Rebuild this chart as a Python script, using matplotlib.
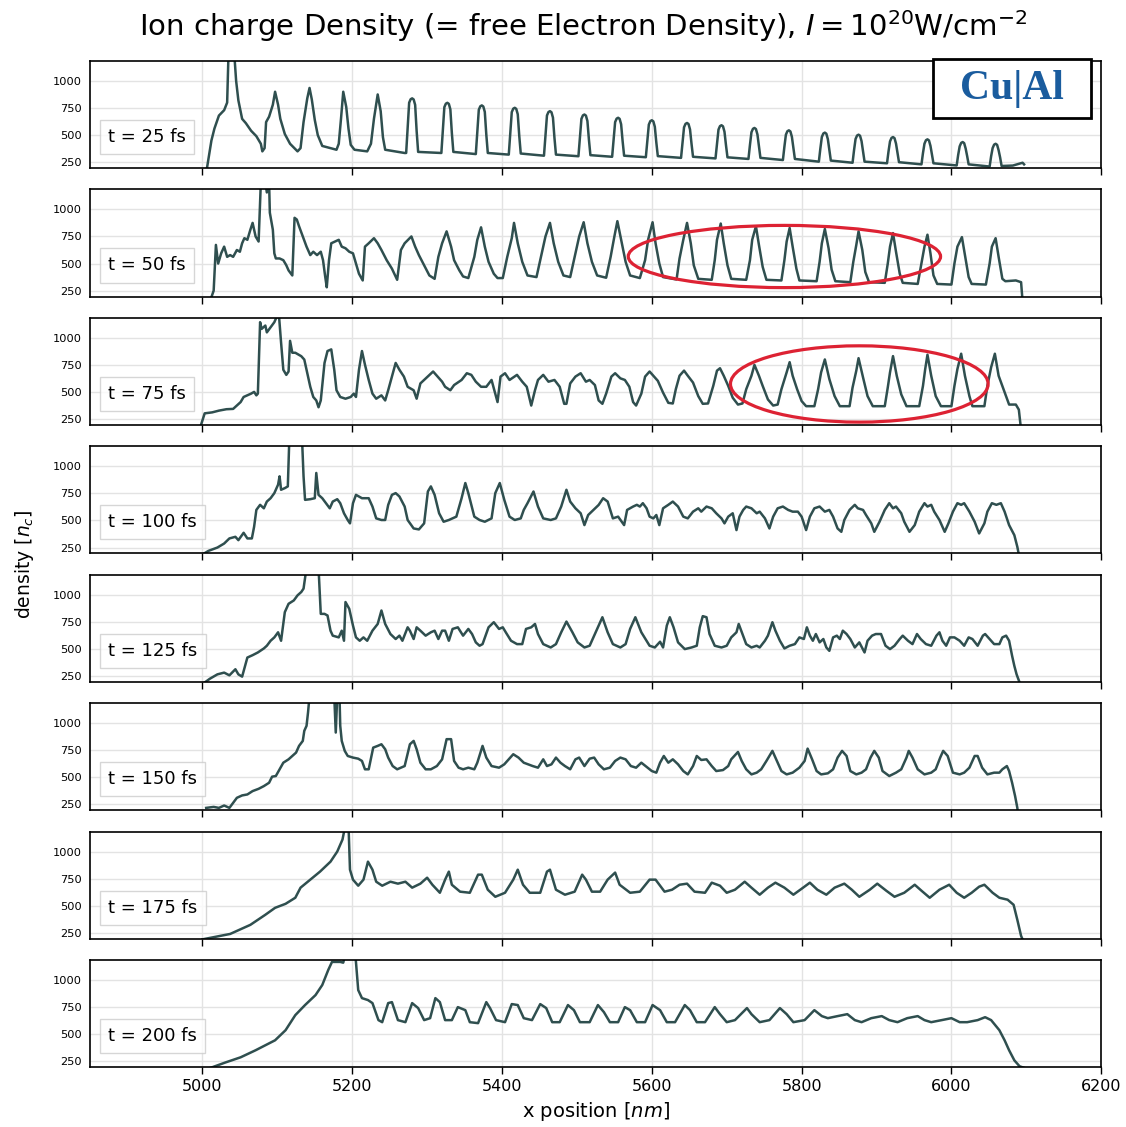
import matplotlib
matplotlib.use("Agg")
import matplotlib.pyplot as plt
from matplotlib.patches import Ellipse, Rectangle

# ---------------- data (x position [nm], density [n_c]) ----------------
times = ["25", "50", "75", "100", "125", "150", "175", "200"]

pts_25 = [(5005,150),(5012,450),(5016,560),(5022,680),(5029,730),(5033,800),(5035,1300),(5039,1250),
          (5042,1300),(5045,1000),(5048,820),(5053,650),(5058,610),(5065,540),(5072,490),(5078,420),
          (5080,350),(5083,380),(5085,620),(5089,670),(5094,780),(5097,900),(5101,780),(5104,650),
          (5110,510),(5117,420),(5127,350),(5131,380),(5135,620),(5140,840),(5143,935),(5146,830),
          (5150,640),(5154,500),(5160,400),(5179,365),(5182,420),(5185,650),(5188,900),(5192,760),
          (5195,560),(5198,410),(5203,365),(5220,350),(5225,420),(5229,650),(5234,875),(5238,720),
          (5241,480),(5244,365),(5270,335),
          (5272,335),(5274,562),(5276,799),(5278,831),(5280,839),(5282,829),(5284,779),(5286,537),(5288,345),
          (5319,335),(5321,543),(5323,758),(5325,790),(5327,798),(5329,788),(5331,738),(5333,520),(5335,345),
          (5365,325),(5367,527),(5369,734),(5371,766),(5373,774),(5375,764),(5377,714),(5379,505),(5381,335),
          (5409,320),(5411,514),(5413,712),(5415,744),(5417,752),(5419,742),(5421,692),(5423,493),(5425,330),
          (5456,310),(5458,495),(5460,681),(5462,713),(5464,721),(5466,711),(5468,661),(5470,474),(5472,320),
          (5502,305),(5504,478),(5506,650),(5508,682),(5510,690),(5512,680),(5514,630),(5516,459),(5518,315),
          (5547,300),(5549,462),(5551,620),(5553,652),(5555,660),(5557,650),(5559,600),(5561,444),(5563,310),
          (5592,296),(5594,449),(5596,597),(5598,629),(5600,637),(5602,627),(5604,577),(5606,432),(5608,306),
          (5639,290),(5641,435),(5643,572),(5645,604),(5647,612),(5649,602),(5651,552),(5653,419),(5655,300),
          (5685,285),(5687,423),(5689,551),(5691,583),(5693,591),(5695,581),(5697,531),(5699,407),(5701,295),
          (5729,280),(5731,409),(5733,526),(5735,558),(5737,566),(5739,556),(5741,506),(5743,394),(5745,290),
          (5775,270),(5777,393),(5779,504),(5781,536),(5783,544),(5785,534),(5787,484),(5789,380),(5791,280),
          (5823,255),(5825,376),(5827,483),(5829,515),(5831,523),(5833,513),(5835,463),(5837,362),(5839,265),
          (5868,245),(5870,362),(5872,464),(5874,496),(5876,504),(5878,494),(5880,444),(5882,349),(5884,255),
          (5914,240),(5916,349),(5918,442),(5920,474),(5922,482),(5924,472),(5926,422),(5928,337),(5930,250),
          (5960,230),(5962,334),(5964,421),(5966,453),(5968,461),(5970,451),(5972,401),(5974,322),(5976,240),
          (6007,220),(6009,317),(6011,396),(6013,428),(6015,436),(6017,426),(6019,376),(6021,306),(6023,230),
          (6051,210),(6053,305),(6055,380),(6057,412),(6059,420),(6061,410),(6063,360),(6065,294),(6067,215),
          (6082,219),(6090,235),(6095,245),(6097,230)]

pts_50 = [(5010,150),(5015,250),(5018,672),(5021,500),(5025,594),(5029,656),(5033,562),(5037,578),
          (5041,562),(5046,625),(5050,609),(5053,687),(5056,734),(5060,719),(5064,812),(5067,875),
          (5071,750),(5075,703),(5078,1250),(5084,1250),(5086,1156),(5089,1250),(5090,969),(5094,812),
          (5096,594),(5098,547),(5103,547),(5108,531),(5112,484),(5115,437),(5120,390),(5123,922),
          (5126,906),(5129,844),(5134,750),(5139,656),(5144,578),(5148,609),(5153,578),(5158,609),
          (5161,531),(5164,375),(5166,281),(5169,531),(5172,687),(5177,703),(5182,719),(5186,656),
          (5191,641),(5196,609),(5201,594),(5205,500),(5209,406),(5214,344),(5217,656),(5222,687),
          (5229,734),(5234,687),(5239,625),(5246,531),(5253,453),(5260,350),(5265,625),(5270,687),
          (5279,750),(5284,656),(5289,578),(5296,484),(5303,390),(5310,359),(5315,562),(5320,687),
          (5326,797),(5332,656),(5336,531),(5343,437),(5348,381),(5355,366),(5363,562),(5367,719),
          (5372,834),(5377,656),(5382,516),(5389,406),(5394,366),(5401,366),(5407,562),(5413,734),
          (5416,875),(5421,687),(5427,516),(5434,390),(5446,375),(5452,562),(5458,750),(5464,875),
          (5469,687),(5475,516),(5482,390),(5491,375),(5497,562),(5503,750),(5509,881),(5514,687),
          (5520,516),(5527,390),(5539,369),(5545,562),(5550,750),(5554,891),(5560,687),(5565,516),
          (5571,390),(5584,366),(5591,531),(5595,719),(5601,881),(5605,687),(5610,500),(5615,375),
          (5633,353),(5637,547),(5642,719),(5647,875),(5652,687),(5656,484),(5662,359),(5680,350),
          (5684,531),(5687,719),(5692,869),(5696,687),(5701,484),(5706,359),(5726,350),(5731,531),
          (5734,719),(5739,844),(5743,672),(5748,469),(5753,350),(5773,344),(5777,531),(5780,703),
          (5784,828),(5788,656),(5793,453),(5797,344),(5820,337),(5824,516),(5827,687),(5831,819),
          (5836,641),(5840,444),(5845,337),(5865,328),(5869,516),(5873,672),(5876,797),(5881,625),
          (5885,422),(5890,328),(5911,322),(5915,500),(5918,656),(5922,781),(5926,609),(5931,406),
          (5935,322),(5955,312),(5960,500),(5964,656),(5968,766),(5972,594),(5976,391),(5981,312),
          (6000,306),(6004,500),(6008,656),(6014,744),(6018,578),(6023,375),(6027,312),(6046,306),
          (6051,500),(6054,656),(6059,734),(6063,562),(6068,359),(6072,337),(6086,344),(6093,328),
          (6095,150)]

pts_75 = [(4996,150),(5003,303),(5013,312),(5022,328),(5032,341),(5041,344),(5046,375),(5051,407),
          (5055,454),(5060,469),(5065,485),(5069,501),(5072,469),(5074,485),(5077,1144),(5079,1082),
          (5084,1113),(5086,1050),(5091,1097),(5096,1144),(5098,1176),(5102,1223),(5105,956),(5108,705),
          (5112,658),(5115,689),(5117,972),(5120,862),(5124,862),(5132,830),(5136,799),(5140,673),
          (5144,548),(5148,454),(5152,422),(5155,359),(5158,422),(5163,768),(5167,878),(5172,893),
          (5176,705),(5179,516),(5184,454),(5191,438),(5198,454),(5202,485),(5205,454),(5209,705),
          (5213,878),(5217,752),(5222,611),(5227,485),(5232,438),(5239,469),(5244,422),(5248,516),
          (5253,642),(5258,768),(5263,705),(5269,642),(5274,548),(5282,516),(5286,438),(5291,579),
          (5296,611),(5301,642),(5308,689),(5314,642),(5320,595),(5324,548),(5331,516),(5336,564),
          (5346,611),(5353,673),(5359,658),(5365,595),(5372,548),(5379,548),(5386,611),(5394,407),
          (5398,642),(5404,673),(5410,611),(5420,658),(5427,595),(5433,548),(5439,375),(5444,516),
          (5448,611),(5455,658),(5462,595),(5470,611),(5477,548),(5483,391),(5486,391),(5491,579),
          (5498,642),(5505,673),(5512,595),(5517,611),(5524,564),(5529,422),(5534,391),(5539,485),
          (5546,642),(5551,673),(5558,626),(5564,611),(5570,548),(5575,407),(5579,375),(5586,485),
          (5591,642),(5597,689),(5602,650),(5608,603),(5615,494),(5622,400),(5628,394),(5632,525),
          (5637,650),(5643,697),(5648,650),(5655,587),(5662,462),(5668,391),(5675,394),(5682,556),
          (5687,697),(5691,719),(5696,650),(5702,556),(5708,447),(5715,384),(5721,394),(5726,525),
          (5733,650),(5737,750),(5743,650),(5748,556),(5755,431),(5762,375),(5768,384),(5773,525),
          (5780,681),(5784,775),(5788,650),(5794,525),(5800,416),(5806,369),(5817,369),(5822,525),
          (5826,681),(5831,800),(5837,619),(5844,462),(5851,369),(5864,369),(5868,541),(5873,697),
          (5876,812),(5882,634),(5888,462),(5895,369),(5911,369),(5915,541),(5918,681),(5922,831),
          (5927,650),(5933,478),(5940,369),(5957,369),(5962,556),(5965,712),(5968,844),(5973,650),
          (5979,462),(5986,369),(6000,369),(6004,556),(6008,712),(6013,853),(6018,650),(6024,462),
          (6028,369),(6044,369),(6048,556),(6053,728),(6058,853),(6063,650),(6068,556),(6073,462),
          (6077,384),(6086,384),(6090,337),(6093,150)]

pts_100 = [(5001,190),(5008,219),(5020,250),(5029,287),(5036,334),(5044,349),(5048,318),(5055,386),
           (5060,334),(5066,334),(5069,442),(5072,597),(5077,644),(5082,612),(5086,674),(5091,705),
           (5096,752),(5101,830),(5103,907),(5105,783),(5110,798),(5114,814),(5116,1250),(5133,1250),
           (5135,907),(5137,690),(5144,696),(5150,705),(5152,938),(5155,736),(5160,705),(5165,659),
           (5170,612),(5174,674),(5180,696),(5184,659),(5189,566),(5194,504),(5197,473),(5201,659),
           (5205,736),(5213,705),(5222,705),(5227,628),(5232,519),(5239,504),(5244,504),(5248,643),
           (5253,736),(5258,752),(5263,721),(5270,628),(5274,504),(5282,426),(5289,417),(5296,473),
           (5301,767),(5305,814),(5310,736),(5316,566),(5322,488),(5329,504),(5339,535),(5346,705),
           (5351,845),(5355,752),(5363,535),(5370,504),(5377,488),(5386,519),(5391,752),(5397,845),
           (5403,690),(5410,535),(5417,504),(5425,519),(5429,597),(5434,659),(5442,767),(5448,628),
           (5455,519),(5465,504),(5472,519),(5479,628),(5486,783),(5491,674),(5498,612),(5505,566),
           (5510,457),(5515,550),(5522,597),(5529,643),(5535,705),(5541,674),(5548,519),(5555,535),
           (5563,457),(5567,597),(5575,628),(5580,644),(5584,628),(5588,659),(5593,612),(5597,535),
           (5602,519),(5606,550),(5610,457),(5615,612),(5622,644),(5628,674),(5635,628),(5642,535),
           (5648,519),(5655,581),(5662,612),(5666,581),(5673,628),(5680,612),(5686,566),(5693,519),
           (5697,473),(5702,535),(5708,566),(5713,411),(5717,535),(5722,597),(5726,628),(5733,612),
           (5740,566),(5744,581),(5751,519),(5757,426),(5762,535),(5768,612),(5775,628),(5782,597),
           (5788,581),(5795,581),(5800,535),(5806,411),(5811,535),(5817,612),(5824,628),(5831,581),
           (5837,597),(5842,535),(5848,426),(5853,395),(5857,504),(5864,597),(5871,644),(5875,612),
           (5882,597),(5886,550),(5893,473),(5897,395),(5904,488),(5911,597),(5917,659),(5922,612),
           (5926,628),(5933,566),(5937,488),(5944,395),(5951,457),(5957,581),(5964,659),(5968,628),
           (5973,644),(5977,581),(5984,504),(5991,395),(5996,473),(6002,581),(6008,659),(6013,644),
           (6017,659),(6024,581),(6031,488),(6037,380),(6044,473),(6048,581),(6054,659),(6060,644),
           (6066,659),(6071,581),(6077,457),(6084,364),(6088,256),(6091,150)]

pts_125 = [(5003,190),(5010,225),(5020,265),(5029,281),(5036,256),(5044,312),(5048,265),(5053,244),
           (5060,420),(5067,442),(5074,467),(5082,504),(5086,529),(5091,575),(5096,606),(5101,653),
           (5105,575),(5110,839),(5115,916),(5122,947),(5127,994),(5132,1025),(5135,1056),(5139,1250),
           (5155,1250),(5158,823),(5163,823),(5167,808),(5171,668),(5174,622),(5182,606),(5186,668),
           (5189,575),(5191,932),(5196,870),(5201,715),(5205,606),(5210,575),(5215,606),(5220,575),
           (5227,668),(5234,730),(5239,854),(5244,730),(5251,637),(5258,591),(5263,622),(5267,575),
           (5274,699),(5277,668),(5282,591),(5286,699),(5291,668),(5298,622),(5305,653),(5310,668),
           (5315,591),(5320,668),(5324,668),(5329,575),(5334,684),(5341,699),(5348,622),(5355,684),
           (5360,637),(5365,560),(5370,529),(5374,544),(5382,699),(5389,746),(5396,684),(5401,699),
           (5405,653),(5412,575),(5420,544),(5427,544),(5432,684),(5439,699),(5444,730),(5448,637),
           (5455,544),(5465,513),(5472,544),(5479,653),(5486,752),(5494,653),(5501,560),(5510,513),
           (5517,529),(5527,684),(5534,792),(5541,653),(5548,544),(5558,513),(5565,544),(5571,684),
           (5578,792),(5586,653),(5597,529),(5604,513),(5611,566),(5615,513),(5620,715),(5624,792),
           (5629,699),(5635,560),(5644,498),(5653,513),(5660,529),(5664,699),(5668,802),(5673,792),
           (5677,637),(5684,529),(5693,513),(5700,529),(5706,606),(5713,653),(5716,730),(5721,637),
           (5726,544),(5733,513),(5740,529),(5744,513),(5751,575),(5755,622),(5761,746),(5765,668),
           (5771,575),(5777,504),(5784,529),(5791,544),(5797,606),(5803,591),(5807,699),(5811,622),
           (5815,575),(5819,637),(5824,560),(5829,591),(5833,513),(5837,482),(5842,606),(5847,622),
           (5851,591),(5855,668),(5860,637),(5865,591),(5871,513),(5877,560),(5884,467),(5888,575),
           (5894,622),(5899,637),(5906,637),(5912,529),(5918,498),(5924,529),(5931,591),(5935,622),
           (5942,575),(5948,544),(5954,637),(5959,591),(5966,544),(5973,529),(5980,622),(5984,653),
           (5988,575),(5993,529),(5998,606),(6004,606),(6011,575),(6017,529),(6023,606),(6028,591),
           (6035,529),(6042,622),(6045,637),(6051,591),(6057,544),(6064,544),(6068,606),(6073,622),
           (6077,575),(6081,436),(6084,343),(6087,265),(6091,190)]

pts_150 = [(5005,218),(5015,227),(5022,218),(5029,240),(5036,218),(5041,265),(5046,311),(5053,333),
           (5060,342),(5067,373),(5075,394),(5082,419),(5089,450),(5093,506),(5098,512),(5103,574),
           (5108,635),(5115,666),(5120,697),(5125,728),(5129,790),(5134,836),(5136,929),(5139,975),
           (5141,1099),(5143,1250),(5176,1250),(5178,913),(5180,1250),(5183,1250),(5184,975),(5186,836),
           (5190,744),(5194,697),(5201,682),(5208,672),(5213,651),(5217,574),(5222,574),(5228,774),
           (5234,790),(5239,805),(5244,759),(5248,682),(5254,604),(5260,574),(5270,604),(5277,805),
           (5282,836),(5286,759),(5291,635),(5298,574),(5305,574),(5313,604),(5320,666),(5326,852),
           (5332,852),(5336,651),(5342,589),(5348,574),(5355,589),(5363,574),(5367,635),(5374,790),
           (5379,682),(5386,604),(5396,589),(5403,620),(5409,666),(5415,713),(5422,682),(5429,635),
           (5435,620),(5441,604),(5448,589),(5455,666),(5460,604),(5466,620),(5472,682),(5478,635),
           (5484,604),(5491,574),(5498,666),(5503,682),(5510,604),(5517,672),(5523,682),(5529,620),
           (5536,574),(5544,589),(5551,651),(5558,682),(5565,666),(5572,604),(5579,589),(5586,635),
           (5597,574),(5600,558),(5606,543),(5611,635),(5616,697),(5622,635),(5628,666),(5635,620),
           (5642,558),(5648,527),(5655,604),(5660,697),(5666,660),(5673,666),(5680,604),(5686,558),
           (5695,567),(5702,604),(5706,666),(5715,734),(5720,651),(5726,574),(5733,527),(5740,543),
           (5746,574),(5753,651),(5761,744),(5766,666),(5773,558),(5780,527),(5788,543),(5797,589),
           (5804,651),(5808,765),(5814,666),(5820,558),(5826,527),(5835,537),(5842,574),(5848,682),
           (5854,744),(5860,697),(5865,558),(5873,527),(5880,543),(5886,574),(5892,682),(5897,744),
           (5903,682),(5908,558),(5917,512),(5926,543),(5933,574),(5940,682),(5943,744),(5948,682),
           (5955,574),(5964,527),(5973,543),(5979,574),(5985,682),(5989,744),(5995,697),(6002,543),
           (6011,527),(6017,543),(6024,589),(6031,697),(6035,697),(6041,589),(6048,527),(6057,543),
           (6064,543),(6068,574),(6074,604),(6077,558),(6081,450),(6083,388),(6085,327),(6088,218),
           (6089,150)]

pts_175 = [(5000,190),(5037,240),(5064,324),(5084,417),(5097,481),(5111,518),(5124,574),(5131,667),
           (5144,741),(5157,815),(5171,907),(5180,1000),(5187,1111),(5191,1250),(5195,1250),(5197,833),
           (5201,741),(5208,685),(5215,741),(5221,907),(5227,833),(5232,722),(5240,685),(5251,722),
           (5261,704),(5271,722),(5280,667),(5291,704),(5300,759),(5307,694),(5317,620),(5324,741),
           (5329,815),(5333,694),(5344,630),(5357,620),(5368,787),(5373,787),(5381,648),(5391,583),
           (5404,620),(5415,741),(5421,833),(5428,694),(5437,620),(5451,620),(5460,815),(5464,833),
           (5472,648),(5484,602),(5497,630),(5507,787),(5512,741),(5520,630),(5531,630),(5541,741),
           (5551,806),(5557,694),(5571,620),(5584,630),(5597,741),(5605,741),(5617,630),(5627,648),
           (5637,694),(5647,704),(5657,630),(5671,620),(5680,713),(5691,685),(5700,620),(5711,648),
           (5724,722),(5733,667),(5744,602),(5755,667),(5765,713),(5777,667),(5789,602),(5800,657),
           (5811,713),(5821,648),(5833,602),(5844,667),(5857,704),(5867,648),(5877,583),(5891,648),
           (5901,704),(5913,639),(5924,583),(5937,620),(5951,694),(5960,639),(5971,574),(5984,648),
           (5997,694),(6007,620),(6017,574),(6027,620),(6037,676),(6044,694),(6055,620),(6064,574),
           (6075,556),(6083,509),(6088,370),(6093,222),(6095,190)]

pts_200 = [(5011,190),(5031,240),(5051,287),(5071,352),(5084,398),(5097,444),(5111,537),(5124,676),
           (5137,769),(5151,861),(5160,954),(5168,1093),(5173,1167),(5184,1167),(5188,1160),(5191,1250),
           (5204,1250),(5208,907),(5213,833),(5221,815),(5227,787),(5235,630),(5240,611),(5248,787),
           (5253,796),(5261,630),(5271,611),(5280,787),(5288,741),(5296,630),(5304,648),(5311,833),
           (5317,796),(5324,630),(5333,630),(5341,750),(5351,722),(5357,611),(5368,602),(5379,796),
           (5384,741),(5392,630),(5404,611),(5413,778),(5421,769),(5429,648),(5440,630),(5451,778),
           (5459,741),(5467,611),(5477,611),(5488,769),(5496,722),(5504,611),(5517,611),(5528,769),
           (5536,704),(5544,611),(5555,611),(5564,750),(5571,722),(5580,611),(5591,611),(5601,769),
           (5611,722),(5620,611),(5631,611),(5644,769),(5651,722),(5660,611),(5671,611),(5684,750),
           (5691,685),(5700,611),(5711,630),(5727,741),(5733,685),(5744,611),(5757,630),(5771,741),
           (5780,685),(5789,611),(5804,630),(5817,722),(5827,667),(5835,648),(5848,667),(5861,685),
           (5871,630),(5880,611),(5893,648),(5907,667),(5917,630),(5928,611),(5941,648),(5955,667),
           (5964,630),(5973,611),(5987,630),(6000,648),(6011,611),(6021,611),(6035,630),(6045,657),
           (6053,630),(6064,537),(6071,444),(6077,352),(6084,259),(6091,204),(6097,190)]

profiles = [pts_25, pts_50, pts_75, pts_100, pts_125, pts_150, pts_175, pts_200]

x_ticks = [5000, 5200, 5400, 5600, 5800, 6000, 6200]
y_ticks = [250, 500, 750, 1000]

# ---------------- figure ----------------
fig, axes = plt.subplots(8, 1, figsize=(11.26, 11.27), dpi=100, sharex=True)
fig.subplots_adjust(left=0.080, right=0.978, top=0.946, bottom=0.053, hspace=0.197)

line_color = "#2f4f4f"
for ax, t, pts in zip(axes, times, profiles):
    xs = [p[0] for p in pts]
    ys = [p[1] for p in pts]
    ax.plot(xs, ys, color=line_color, lw=1.8, label=f"t = {t} fs")
    ax.set_xlim(4850, 6200)
    ax.set_ylim(195, 1185)
    ax.set_yticks(y_ticks)
    ax.set_xticks(x_ticks)
    ax.grid(True, color="#e3e3e3", lw=1.0)
    ax.set_axisbelow(True)
    for s in ax.spines.values():
        s.set_color("black")
        s.set_linewidth(1.2)
    ax.tick_params(axis="y", length=0, labelsize=8.2, pad=6)
    ax.tick_params(axis="x", length=5, width=1, direction="out", labelsize=11.5)
    leg = ax.legend(loc="lower left", bbox_to_anchor=(10/1011, 14/107), borderaxespad=0,
                    handlelength=0, handletextpad=0, fontsize=13, frameon=True,
                    fancybox=False, borderpad=0.45)
    leg.get_frame().set_edgecolor("#cccccc")
    leg.get_frame().set_linewidth(1.0)
    for h in leg.legend_handles:
        h.set_visible(False)

axes[-1].set_xlabel("x position [$nm$]", fontsize=14)

# red highlight ellipses
axes[1].add_patch(Ellipse((5777, 565), 417, 574, fill=False, ec="#dd2233", lw=2.3, clip_on=False, zorder=6))
axes[2].add_patch(Ellipse((5877, 574), 344, 704, fill=False, ec="#dd2233", lw=2.3, clip_on=False, zorder=6))

fig.text(0.518, 0.977, r"Ion charge Density (= free Electron Density), $I = 10^{20}$W/cm$^{-2}$",
         ha="center", va="center", fontsize=21)
fig.text(0.022, 0.499, "density [$n_c$]", rotation=90, ha="center", va="center", fontsize=13.5)

# Cu|Al label box
fig.add_artist(Rectangle((933/1126, 1 - 118/1127), 158/1126, 59/1127, transform=fig.transFigure,
                         facecolor="white", edgecolor="black", lw=2.0, zorder=10))
fig.text(1012/1126, 1 - 89/1127, "Cu|Al", ha="center", va="center", fontsize=30,
         fontweight="bold", family=["Liberation Serif", "DejaVu Serif"], color="#1a5c9e", zorder=11)

fig.savefig("out.png", dpi=100)
